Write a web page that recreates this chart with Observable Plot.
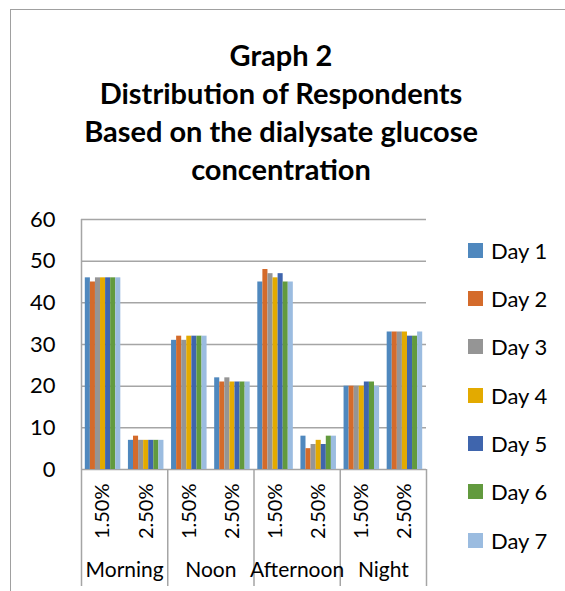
<!DOCTYPE html>
<html><head><meta charset="utf-8">
<script src="https://cdn.jsdelivr.net/npm/d3@7"></script>
<script src="https://cdn.jsdelivr.net/npm/@observablehq/plot@0.6"></script>
<style>
html,body{margin:0;padding:0;width:565px;height:591px;overflow:hidden;background:#fff;font-family:Lato,"Open Sans",sans-serif;color:#000;}
#frame{position:absolute;left:10px;top:9px;width:700px;height:700px;border:1.5px solid #a0a0a0;}
#title{position:absolute;left:31px;width:500px;top:36px;text-align:center;font-weight:700;font-size:29px;line-height:38px;}
#chart{position:absolute;left:0;top:200px;}
#legend{position:absolute;left:468px;top:226px;}
.row{display:flex;align-items:center;height:48.33px;font-size:22px;}
.sw{width:15px;height:15px;margin-right:8px;}
</style></head><body>
<div id="frame"></div><div id="title"></div><div id="chart"></div><div id="legend"></div>
<script>
const titleLines = ["Graph 2", "Distribution of Respondents", "Based on the dialysate glucose", "concentration"];
const groups = ["Morning", "Noon", "Afternoon", "Night"];
const concentrations = ["1.50%", "2.50%"];
const days = ["Day 1", "Day 2", "Day 3", "Day 4", "Day 5", "Day 6", "Day 7"];
const colors = ["#4f88be", "#d46b2b", "#959595", "#e3aa00", "#3f65ad", "#629a3e", "#9bbce0"];
const yTicks = [0, 10, 20, 30, 40, 50, 60];
// values per day, ordered Morning 1.50%, Morning 2.50%, Noon 1.50%, Noon 2.50%, Afternoon 1.50%, Afternoon 2.50%, Night 1.50%, Night 2.50%
const day1 = [46, 7, 31, 22, 45, 8, 20, 33];
const day2 = [45, 8, 32, 21, 48, 5, 20, 33];
const day3 = [46, 7, 31, 22, 47, 6, 20, 33];
const day4 = [46, 7, 32, 21, 46, 7, 20, 33];
const day5 = [46, 7, 32, 21, 47, 6, 21, 32];
const day6 = [46, 7, 32, 21, 45, 8, 21, 32];
const day7 = [46, 7, 32, 21, 45, 8, 20, 33];
const series = [day1, day2, day3, day4, day5, day6, day7];

const gapRatio = 1.5; // Excel gap width (relative to one bar)
const w = 1 / (days.length + gapRatio);
const pad = gapRatio * w / 2;
const nSub = groups.length * concentrations.length;

const data = [];
for (let i = 0; i < nSub; i++) {
  days.forEach((day, d) => {
    const x1 = i + pad + d * w;
    data.push({i, day, value: series[d][i], x1, x2: x1 + w});
  });
}

document.getElementById("title").innerHTML = titleLines.map(t => `<div>${t}</div>`).join("");
document.getElementById("legend").innerHTML = days.map((d, k) =>
  `<div class="row"><div class="sw" style="background:${colors[k]}"></div><span>${d}</span></div>`).join("");

const gray = "#a5a5a5";
const chart = Plot.plot({
  width: 440, height: 391,
  marginLeft: 81, marginRight: 14, marginTop: 19, marginBottom: 122,
  style: {fontFamily: "Lato, 'Open Sans', sans-serif", color: "#000", background: "transparent", overflow: "visible"},
  x: {domain: [0, nSub], axis: null},
  y: {domain: [0, 60], axis: null},
  color: {domain: days, range: colors},
  marks: [
    Plot.gridY({ticks: yTicks, stroke: gray, strokeOpacity: 1, strokeWidth: 1.5}),
    Plot.rectY(data, {x1: "x1", x2: "x2", y: "value", fill: "day"}),
    Plot.ruleX([0], {stroke: gray, strokeWidth: 1.5, insetBottom: -117}),
    Plot.ruleX(groups.map((g, k) => (k + 1) * concentrations.length), {y1: 0, y2: 0, stroke: gray, strokeWidth: 1.5, insetBottom: -117}),
    Plot.axisY({ticks: yTicks, tickSize: 0, tickPadding: 26, fontSize: 22, label: null}),
    Plot.axisX({ticks: d3.range(nSub).map(i => i + 0.5), tickFormat: v => concentrations[Math.floor(v) % concentrations.length],
      tickRotate: -90, tickSize: 0, tickPadding: 14, fontSize: 20, label: null}),
    Plot.text(groups, {x: (g, k) => k * concentrations.length + concentrations.length / 2, y: () => 0, text: d => d, dy: 101, fontSize: 21})
  ]
});
document.getElementById("chart").appendChild(chart);
</script>
</body></html>
